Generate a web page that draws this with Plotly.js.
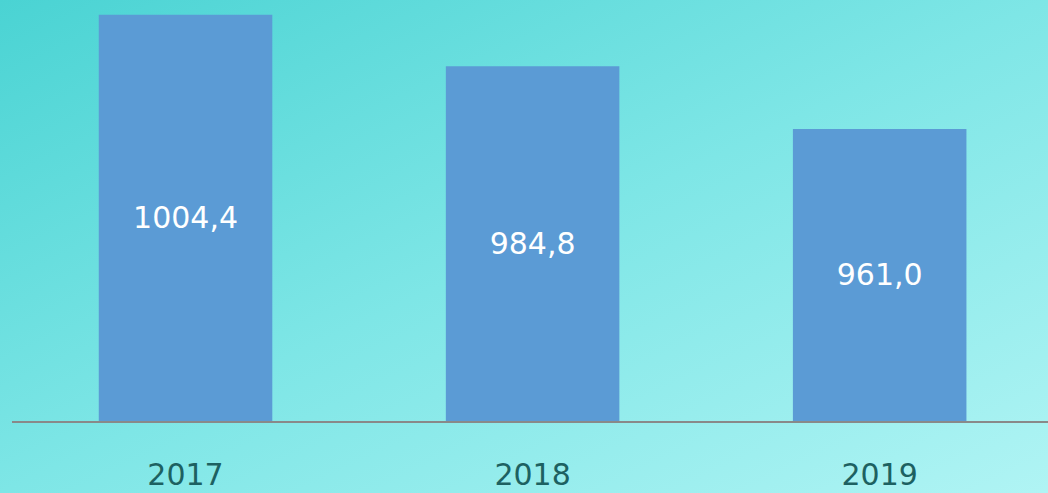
<!DOCTYPE html>
<html>
<head>
<meta charset="utf-8">
<script src="https://cdn.plot.ly/plotly-3.0.1.min.js"></script>
<style>
  html, body { margin: 0; padding: 0; }
  #chart {
    width: 1048px; height: 493px;
    background: linear-gradient(to bottom right, #4ad3d3 0%, #7ee6e6 50%, #b0f4f4 100%);
  }
</style>
</head>
<body>
<div id="chart"></div>
<script>
const categories = ['2017', '2018', '2019'];
const values = [1004.4, 984.8, 961.0];
const axisBase = 850;
const axisTop = 1010;
const labels = values.map(v => v.toFixed(1).replace('.', ','));

const trace = {
  type: 'bar',
  x: categories,
  y: values.map(v => v - axisBase),
  base: axisBase,
  text: labels,
  textposition: 'inside',
  insidetextanchor: 'middle',
  textangle: 0,
  textfont: { family: 'DejaVu Sans, Verdana, sans-serif', size: 30, color: '#ffffff' },
  marker: { color: '#5b9bd5', line: { width: 0 } },
  hoverinfo: 'none'
};

const layout = {
  width: 1048, height: 493,
  margin: { l: 12, r: 0, t: 0, b: 72 },
  paper_bgcolor: 'rgba(0,0,0,0)',
  plot_bgcolor: 'rgba(0,0,0,0)',
  bargap: 0.5,
  showlegend: false,
  xaxis: {
    type: 'category',
    range: [-0.5, 2.485],
    showline: true, linecolor: '#898989', linewidth: 2,
    showgrid: false, zeroline: false, ticks: '',
    ticklabelstandoff: 26,
    tickfont: { family: 'DejaVu Sans, Verdana, sans-serif', size: 30, color: '#1d6161' }
  },
  yaxis: { range: [axisBase, axisTop], visible: false, showgrid: false, zeroline: false }
};

Plotly.newPlot('chart', [trace], layout, { staticPlot: true, displayModeBar: false });
</script>
</body>
</html>
